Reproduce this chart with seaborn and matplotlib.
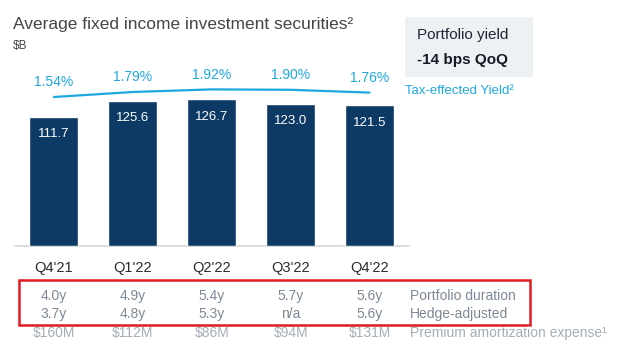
import matplotlib
matplotlib.use("Agg")
import matplotlib.pyplot as plt
from matplotlib import transforms
from matplotlib.patches import Rectangle
import numpy as np
import seaborn as sns

quarters = ["Q4'21", "Q1'22", "Q2'22", "Q3'22", "Q4'22"]
avg_securities = [111.7, 125.6, 126.7, 123.0, 121.5]
tax_effected_yield = [1.54, 1.79, 1.92, 1.90, 1.76]
portfolio_duration = ["4.0y", "4.9y", "5.4y", "5.7y", "5.6y"]
hedge_adjusted = ["3.7y", "4.8y", "5.3y", "n/a", "5.6y"]
premium_amortization = ["$160M", "$112M", "$86M", "$94M", "$131M"]
row_labels = ["Portfolio duration", "Hedge-adjusted", "Premium amortization expense\u00b9"]

NAVY = "#0c3a64"
CYAN = "#1fa8e0"
W, H = 640, 349

sns.set_theme(style="white")
plt.rcParams["font.family"] = ["Liberation Sans", "DejaVu Sans"]

fig = plt.figure(figsize=(W / 100, H / 100), dpi=100)


def fy(px):
    """Figure fraction from a pixel row counted from the top."""
    return 1 - px / H


def fx(px):
    return px / W


ax = fig.add_axes([fx(14.5), fy(246), fx(409 - 14.5), (246 - 60) / H])
sns.barplot(x=quarters, y=avg_securities, color=NAVY, width=0.62,
            saturation=1, ax=ax)
ax.set_xlim(-0.5, 4.5)
ax.set_ylim(0, 160.8)
ax.axis("off")
ax.axhline(0, color="#d4d6d9", lw=1.2, clip_on=False, zorder=0)

for i, v in enumerate(avg_securities):
    ax.annotate(f"{v:.1f}", (i, v), xytext=(0, -12.5), textcoords="offset points",
                ha="center", va="center", color="white", fontsize=9.5)

# Yield line on its own scale
ax2 = ax.twinx()
pos = np.arange(len(quarters))
sns.lineplot(x=pos, y=tax_effected_yield, ax=ax2, color=CYAN, lw=1.6)
ax2.set_ylim(-5.91, 3.39)
ax2.set_xlim(-0.5, 4.5)
ax2.axis("off")
for i, v in enumerate(tax_effected_yield):
    ax2.annotate(f"{v:.2f}%", (i, v), xytext=(0, 10.5), textcoords="offset points",
                 ha="center", va="center", color=CYAN, fontsize=10)

# Category labels and table rows under the bars
blend = transforms.blended_transform_factory(ax.transData, fig.transFigure)
for i, q in enumerate(quarters):
    ax.text(i, fy(268), q, transform=blend, ha="center", va="center",
            fontsize=10.5, color="#2b2b2b")

rows = [(portfolio_duration, 296, "#7d8896"),
        (hedge_adjusted, 314, "#7d8896"),
        (premium_amortization, 333, "#a4adb8")]
for (vals, ypx, col), lab in zip(rows, row_labels):
    for i, s in enumerate(vals):
        ax.text(i, fy(ypx), s, transform=blend, ha="center", va="center",
                fontsize=10, color=col)
    fig.text(fx(410), fy(ypx), lab, ha="left", va="center", fontsize=10, color=col)

fig.add_artist(Rectangle((fx(19), fy(325)), fx(530 - 19), (325 - 280) / H,
                         transform=fig.transFigure, fill=False,
                         edgecolor="#e11b22", lw=1.8))

# Title block
fig.text(fx(13), fy(25), "Average fixed income investment securities\u00b2",
         ha="left", va="center", fontsize=12.5, color="#454545")
fig.text(fx(13), fy(45.5), "$B", ha="left", va="center", fontsize=8.5, color="#454545")

# Portfolio yield callout
fig.add_artist(Rectangle((fx(405), fy(77)), fx(533 - 405), (77 - 17) / H,
                         transform=fig.transFigure, facecolor="#eef1f4",
                         edgecolor="none"))
fig.text(fx(417), fy(35), "Portfolio yield", ha="left", va="center",
         fontsize=11, color="#1c2633")
fig.text(fx(417), fy(60), "-14 bps QoQ", ha="left", va="center",
         fontsize=11, fontweight="bold", color="#141c26")
fig.text(fx(405), fy(91), "Tax-effected Yield\u00b2", ha="left", va="center",
         fontsize=9.5, color=CYAN)

fig.savefig("out.png", dpi=100)
